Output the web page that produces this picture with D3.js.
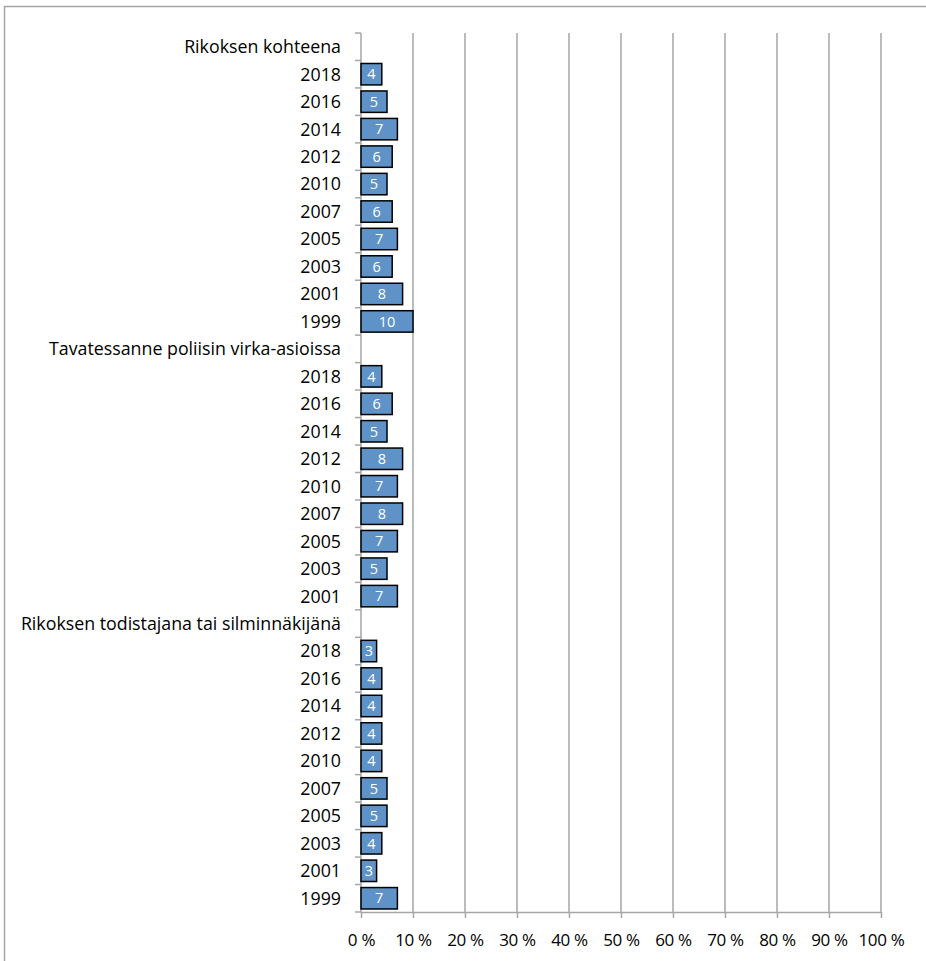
<!DOCTYPE html>
<html><head><meta charset="utf-8">
<script src="https://cdn.jsdelivr.net/npm/d3@7"></script>
<style>body{margin:0;background:#fff;}svg{display:block;}text{font-family:"Open Sans",sans-serif;}</style>
</head><body>
<script>
const groups = ["Rikoksen kohteena","Tavatessanne poliisin virka-asioissa","Rikoksen todistajana tai silminnäkijänä"];
const years1 = ["2018","2016","2014","2012","2010","2007","2005","2003","2001","1999"];
const values1 = [4,5,7,6,5,6,7,6,8,10];
const years2 = ["2018","2016","2014","2012","2010","2007","2005","2003","2001"];
const values2 = [4,6,5,8,7,8,7,5,7];
const years3 = ["2018","2016","2014","2012","2010","2007","2005","2003","2001","1999"];
const values3 = [3,4,4,4,4,5,5,4,3,7];
const xTicks = [0,10,20,30,40,50,60,70,80,90,100];

const rows = [];
[[years1,values1],[years2,values2],[years3,values3]].forEach(([ys,vs],gi)=>{
  rows.push({id:"g"+gi,label:groups[gi],value:null});
  ys.forEach((y,i)=>rows.push({id:"g"+gi+"_"+y,label:y,value:vs[i]}));
});

const W=926,H=961;
const svg=d3.select("body").append("svg").attr("width",W).attr("height",H);
svg.append("rect").attr("x",4.5).attr("y",6.5).attr("width",W+10).attr("height",H+10).attr("fill","none").attr("stroke","#a6a6a6").attr("stroke-width",1.5);

const x=d3.scaleLinear().domain([0,100]).range([361,881]);
const y=d3.scaleBand().domain(rows.map(r=>r.id)).range([33,912]).paddingInner(0.22).paddingOuter(0.11);
const yb=d3.scaleBand().domain(rows.map(r=>r.id)).range([33,912]);

svg.append("g").selectAll("line").data(xTicks.filter(t=>t>0)).join("line")
  .attr("x1",d=>x(d)).attr("x2",d=>x(d)).attr("y1",33).attr("y2",912)
  .attr("stroke","#a6a6a6").attr("stroke-width",1.5);

const xa=svg.append("g").attr("transform","translate(0,912)")
  .call(d3.axisBottom(x).tickValues(xTicks).tickSize(6).tickSizeOuter(0).tickFormat(d=>d+" %"));
xa.select(".domain").attr("stroke","#a6a6a6").attr("stroke-width",1.5);
xa.selectAll(".tick line").attr("stroke","#a6a6a6").attr("stroke-width",1.5);
xa.selectAll("text").attr("font-size",17).attr("fill","#000").attr("dy",0).attr("y",34).attr("letter-spacing","-0.3");

svg.append("line").attr("x1",361).attr("x2",361).attr("y1",33).attr("y2",912).attr("stroke","#a6a6a6").attr("stroke-width",1.5);
const bounds=rows.map(r=>yb(r.id)).concat([912]);
svg.append("g").selectAll("line").data(bounds).join("line")
  .attr("x1",355).attr("x2",361).attr("y1",d=>d).attr("y2",d=>d)
  .attr("stroke","#a6a6a6").attr("stroke-width",1.5);

svg.append("g").selectAll("text").data(rows).join("text")
  .attr("x",341).attr("y",d=>yb(d.id)+yb.bandwidth()/2).attr("dy","0.36em")
  .attr("text-anchor","end").attr("font-size",17.8).attr("fill","#000").text(d=>d.label);

const br=rows.filter(r=>r.value!==null);
svg.append("g").selectAll("rect").data(br).join("rect")
  .attr("x",x(0)).attr("y",d=>y(d.id)).attr("width",d=>x(d.value)-x(0)).attr("height",y.bandwidth())
  .attr("fill","#5f93c8").attr("stroke","#000").attr("stroke-width",1.5);
svg.append("g").selectAll("text").data(br).join("text")
  .attr("x",d=>(x(0)+x(d.value))/2).attr("y",d=>y(d.id)+y.bandwidth()/2).attr("dy","0.36em")
  .attr("text-anchor","middle").attr("font-size",14.5).attr("fill","#fff").text(d=>d.value);
</script>
</body></html>
